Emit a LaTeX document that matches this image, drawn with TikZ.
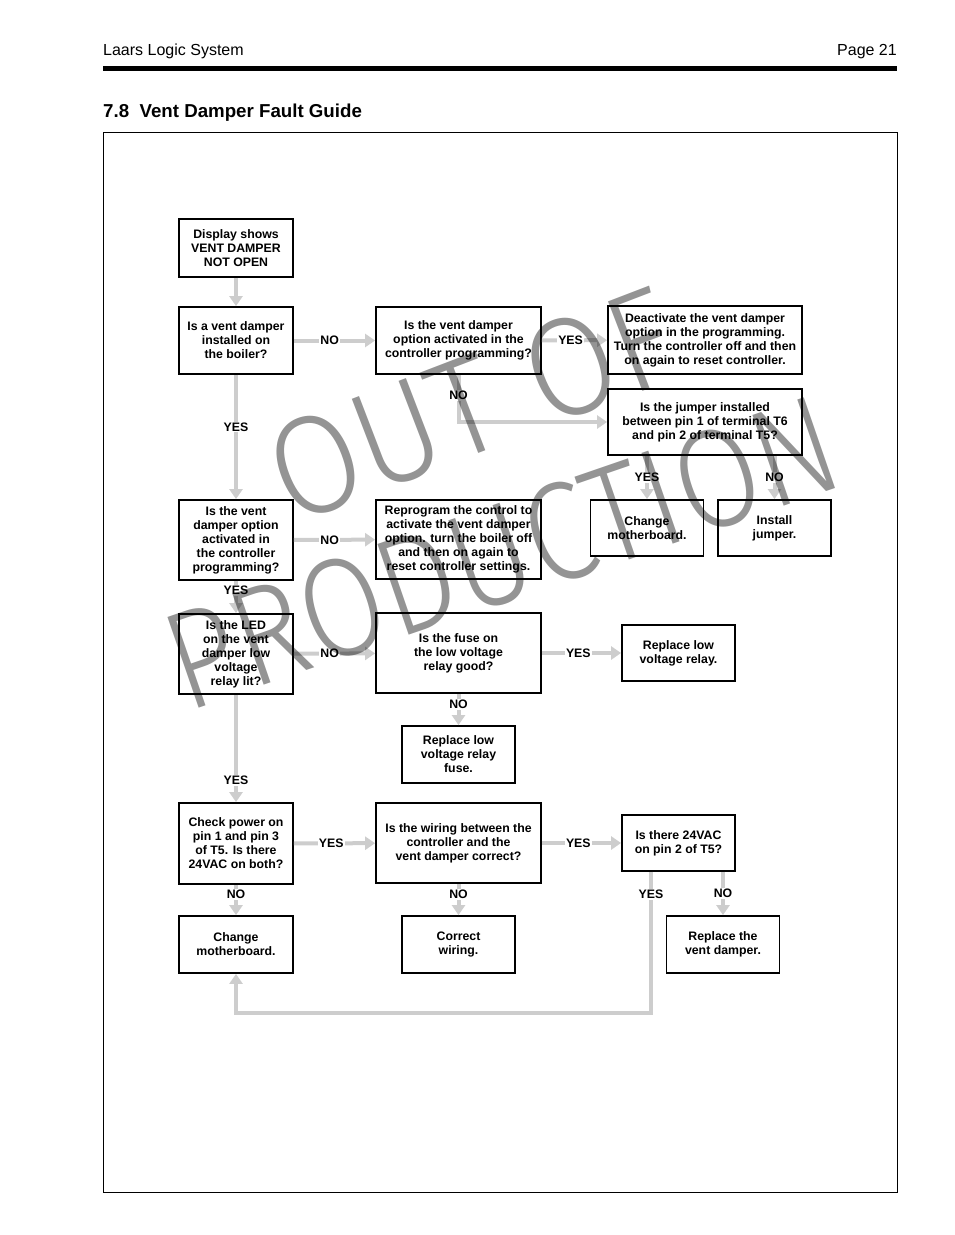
\documentclass[tikz,border=0pt]{standalone}
\usepackage{fontspec}
\setmainfont{Liberation Sans}
\newfontfamily\stampfont{Fira Sans Light}
\usetikzlibrary{arrows.meta}
\definecolor{flowgray}{RGB}{205,205,205}
\definecolor{stampgray}{RGB}{148,148,148}
\tikzset{
  box/.style={draw, line width=1.8pt, align=center, inner sep=2pt, font=\bfseries\fontsize{12.3}{14}\selectfont},
  qbox/.style={box, minimum width=114pt},
  mbox/.style={box, minimum width=165pt},
  lbox/.style={box, minimum width=194pt},
  sbox/.style={box, minimum width=113pt},
  flow/.style={draw=flowgray, line width=4pt, -{Triangle[width=13pt,length=10pt]}},
  lab/.style={fill=white, inner sep=1pt, font=\bfseries\fontsize{12.3}{14}\selectfont},
  stamp/.style={text=stampgray, inner sep=0pt, font=\stampfont\fontsize{140}{140}\selectfont}
}
\begin{document}
\begin{tikzpicture}[x=1pt, y=-1pt]
\useasboundingbox (0,0) rectangle (954,1235);
\node[anchor=base west, inner sep=0pt, font=\fontsize{16}{18}\selectfont] (head) at (103,55) {Laars Logic System};
\node[anchor=base east, inner sep=0pt, font=\fontsize{16}{18}\selectfont] (page) at (897,55) {Page 21};
\fill (103,66) rectangle (897,71);
\node[anchor=base west, inner sep=0pt, font=\bfseries\fontsize{18.7}{22}\selectfont] (title) at (103,117) {7.8\ \ Vent Damper Fault Guide};
\draw[line width=1pt] (103,132) rectangle (897,1192);

\node[qbox, minimum height=58pt] (start) at (236,248) {Display shows\\VENT DAMPER\\NOT OPEN};
\node[qbox, minimum height=67pt] (q1) at (236,340.5) {Is a vent damper\\installed on\\the boiler?};
\node[mbox, minimum height=67pt] (q2) at (458.5,340.5) {Is the vent damper\\option activated in the\\controller programming?};
\node[lbox, minimum height=68pt] (deact) at (705,340) {Deactivate the vent damper\\option in the programming.\\Turn the controller off and then\\on again to reset controller.};
\node[lbox, minimum height=66pt] (jumper) at (705,422) {Is the jumper installed\\between pin 1 of terminal T6\\and pin 2 of terminal T5?};
\node[sbox, minimum height=56pt] (chmb1) at (647,528) {Change\\motherboard.};
\node[sbox, minimum height=56pt] (instj) at (774.5,528) {Install\\jumper.};
\node[qbox, minimum height=80pt] (q3) at (236,540) {Is the vent\\damper option\\activated in\\the controller\\programming?};
\node[mbox, minimum height=79pt] (reprog) at (458.5,539.5) {Reprogram the control to\\activate the vent damper\\option. turn the boiler off\\and then on again to\\reset controller settings.};
\node[qbox, minimum height=80pt] (q4) at (236,654) {Is the LED\\on the vent\\damper low\\voltage\\relay lit?};
\node[mbox, minimum height=80pt] (fuse) at (458.5,653) {Is the fuse on\\the low voltage\\relay good?};
\node[sbox, minimum height=56pt] (rlvr) at (678.5,653) {Replace low\\voltage relay.};
\node[sbox, minimum height=57pt] (rfuse) at (458.5,754.5) {Replace low\\voltage relay\\fuse.};
\node[qbox, minimum height=81pt] (q5) at (236,843.5) {Check power on\\pin 1 and pin 3\\of T5. Is there\\24VAC on both?};
\node[mbox, minimum height=80pt] (wiring) at (458.5,843) {Is the wiring between the\\controller and the\\vent damper correct?};
\node[sbox, minimum height=56pt] (q6) at (678.5,843) {Is there 24VAC\\on pin 2 of T5?};
\node[qbox, minimum height=57pt] (chmb2) at (236,944.5) {Change\\motherboard.};
\node[sbox, minimum height=57pt] (corrw) at (458.5,944.5) {Correct\\wiring.};
\node[sbox, minimum height=57pt] (rvd) at (723,944.5) {Replace the\\vent damper.};
\coordinate (yesdrop) at (651,1013);

\draw[flow] (start) -- (q1);
\draw[flow] (q1) -- node[lab, pos=0.44] {NO} (q2);
\draw[flow] (q2) -- node[lab, pos=0.44] {YES} (deact);
\draw[flow] (q2.south) |- node[lab, pos=0.22] {NO} (jumper.west);
\draw[flow] (chmb1.north |- jumper.south) -- node[lab] {YES} (chmb1.north);
\draw[flow] (instj.north |- jumper.south) -- node[lab] {NO} (instj.north);
\draw[flow] (q1) -- node[lab, pos=0.42] {YES} (q3);
\draw[flow] (q3) -- node[lab, pos=0.44] {NO} (reprog);
\draw[flow] (q3) -- node[lab, pos=0.3] {YES} (q4);
\draw[flow] (q4) -- node[lab, pos=0.44] {NO} (fuse);
\draw[flow] (fuse) -- node[lab, pos=0.46] {YES} (rlvr);
\draw[flow] (fuse) -- node[lab, pos=0.33] {NO} (rfuse);
\draw[flow] (q4) -- node[lab, pos=0.8] {YES} (q5);
\draw[flow] (q5) -- node[lab, pos=0.46] {YES} (wiring);
\draw[flow] (wiring) -- node[lab, pos=0.46] {YES} (q6);
\draw[flow] (q5) -- node[lab, pos=0.31] {NO} (chmb2);
\draw[flow] (wiring) -- node[lab, pos=0.33] {NO} (corrw);
\draw[flow] (rvd.north |- q6.south) -- node[lab, pos=0.5] {NO} (rvd.north);
\draw[flow] (yesdrop |- q6.south) -- node[lab, pos=0.16] {YES} (yesdrop) -| (chmb2.south);

\begin{scope}[blend mode=multiply]
\node[stamp, rotate=21, xscale=0.92] (stampa) at (472,405) {OUT OF};
\node[stamp, rotate=19, xscale=0.86] (stampb) at (502,553) {PRODUCTION};
\end{scope}
\end{tikzpicture}
\end{document}
